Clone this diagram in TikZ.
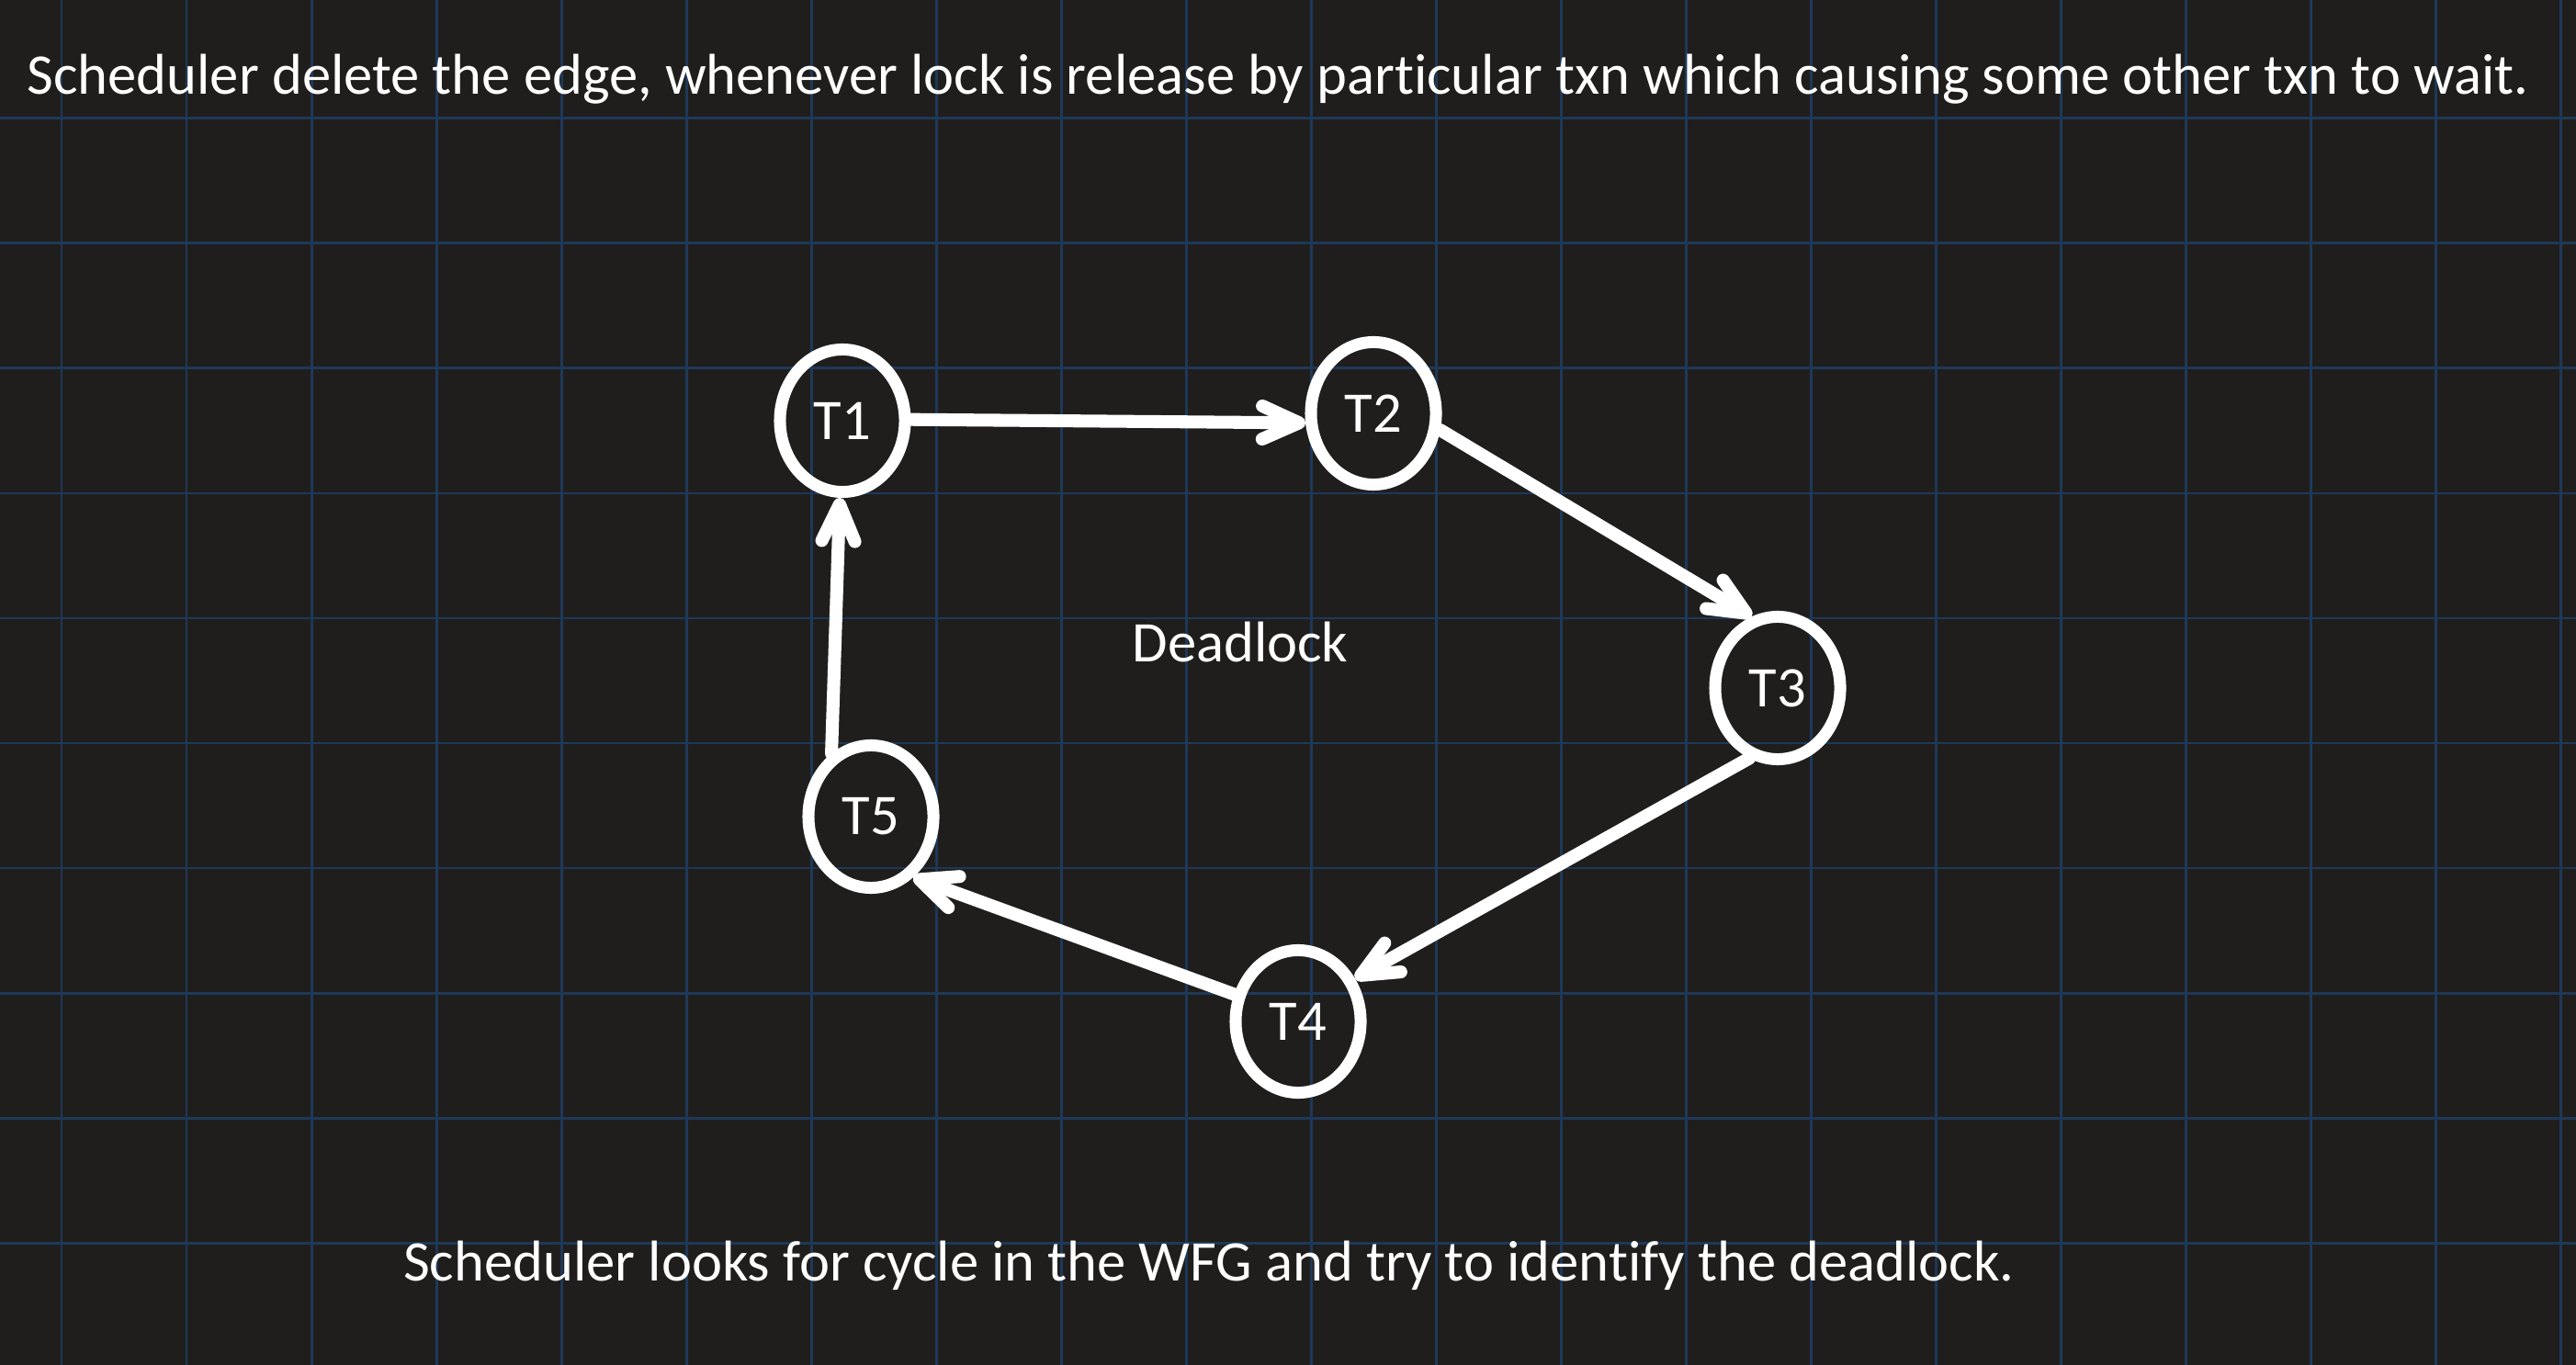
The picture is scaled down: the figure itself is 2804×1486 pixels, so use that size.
\documentclass[tikz,border=0pt]{standalone}
\usepackage{fontspec}
\setmainfont{Carlito}[Ligatures=NoCommon]
\usetikzlibrary{arrows.meta,shapes.geometric}
\definecolor{board}{RGB}{31,30,29}
\definecolor{gridblue}{RGB}{30,56,88}

\begin{document}
\begin{tikzpicture}[x=0.01cm,y=-0.01cm,
  txn/.style={ellipse,draw=white,line width=3.7pt,minimum width=1.36cm,minimum height=1.55cm,inner sep=0pt,text=white,font=\fontsize{17.8pt}{22pt}\selectfont},
  wait/.style={draw=white,line width=4pt,line cap=round,-{Straight Barb[length=4mm,width=3.6mm,line cap=round,line join=round]}},
  note/.style={text=white,anchor=base,inner sep=0pt,font=\fontsize{17.8pt}{22pt}\selectfont}]
 \path[use as bounding box,fill=board] (0,0) rectangle (2804,1486);
 % board grid
 \foreach \x in {0,...,20}
   \draw[gridblue,line width=0.85pt] (67+136*\x,0) -- (67+136*\x,1486);
 \foreach \y in {0,...,9}
   \draw[gridblue,line width=0.85pt] (0,129+136*\y) -- (2804,129+136*\y);

 \draw (1391,103) node[note] (rule) {Scheduler delete the edge, whenever lock is release by particular txn which causing some other txn to wait.};
 \draw (1316,1394) node[note] (check) {Scheduler looks for cycle in the WFG and try to identify the deadlock.};
 \draw (1350,721) node[note] (dead) {Deadlock};

 \draw (917,458) node[txn] (T1) {T1};
 \draw (1495,450) node[txn] (T2) {T2};
 \draw (1935,749) node[txn] (T3) {T3};
 \draw (1413,1112) node[txn] (T4) {T4};
 \draw (948,889) node[txn] (T5) {T5};

 \path (T1.1) edge[wait] (T2.188);
 \path (T2.-14) edge[wait] (T3.110);
 \path (T3.-112) edge[wait] (T4.37);
 \path (T4.157) edge[wait] (T5.-55);
 \path (T5.122) edge[wait] (T1.-92);
\end{tikzpicture}
\end{document}
